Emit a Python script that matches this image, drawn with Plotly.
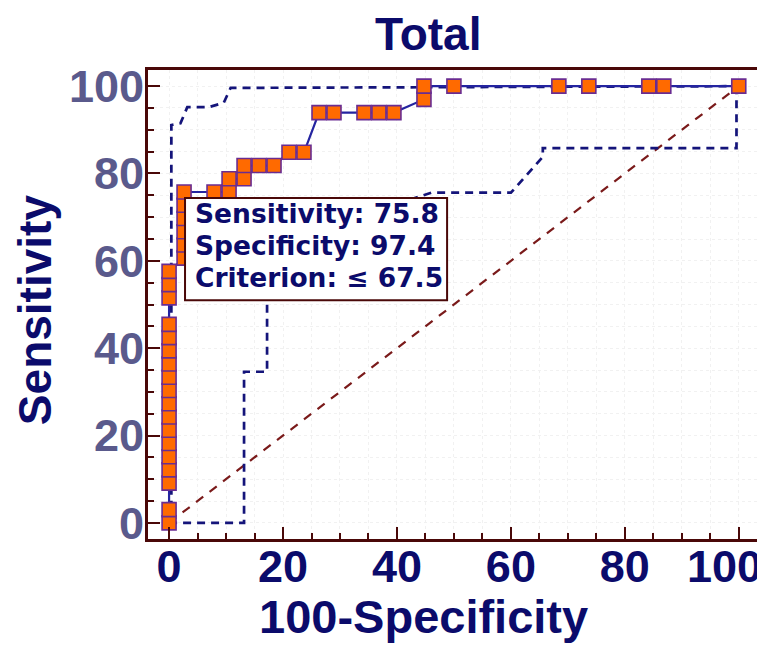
import plotly.graph_objects as go

# ROC curve points (100-Specificity, Sensitivity)
roc_fpr = [0, 0, 0, 0, 0, 0, 0, 0, 0, 0, 0, 0, 0, 0, 0, 0, 0, 0,
           2.63, 2.63, 2.63, 2.63, 2.63, 2.63,
           7.89, 10.53, 10.53, 13.16, 13.16, 15.79, 18.42, 21.05, 23.68,
           26.32, 28.95, 34.21, 36.84, 39.47, 44.74, 44.74,
           50.0, 68.42, 73.68, 84.21, 86.84, 100.0]
roc_sens = [0, 3.03, 9.09, 12.12, 15.15, 18.18, 21.21, 24.24, 27.27, 30.30, 33.33,
            36.36, 39.39, 42.42, 45.45, 51.52, 54.55, 57.58,
            60.61, 63.64, 66.67, 69.70, 72.73, 75.76,
            75.76, 75.76, 78.79, 78.79, 81.82, 81.82, 81.82, 84.85, 84.85,
            93.94, 93.94, 93.94, 93.94, 93.94, 96.97, 100.0,
            100.0, 100.0, 100.0, 100.0, 100.0, 100.0]

# Confidence bounds
upper_fpr = [0.4, 0.4, 2.0, 3.2, 7.0, 9.6, 10.8, 45.0, 100.0]
upper_sens = [0, 91.1, 91.5, 95.2, 95.2, 96.2, 99.6, 99.8, 100.0]
lower_fpr = [0, 13.16, 13.16, 17.2, 17.2, 40.0, 46.0, 60.0, 65.6, 65.6, 99.6, 99.6]
lower_sens = [0, 0, 34.6, 34.6, 55.0, 73.0, 75.6, 75.6, 83.8, 85.8, 85.8, 100.0]

# Reference diagonal
diag_x = [0, 100]
diag_y = [0, 100]

box_lines = ["Sensitivity: 75.8", "Specificity: 97.4", "Criterion: \u2264 67.5"]
box_line_y = [70.9, 63.4, 56.1]

x_ticks = [0, 20, 40, 60, 80, 100]
x_ticktext = ["0", "20", "40", "60", "80", "100"]
y_ticks = [0, 20, 40, 60, 80, 100]
y_ticktext = ["0", "20", "40", "60", "80", "100"]

NAVY = "#0b0b6b"
MAROON = "#4a0808"
AXFONT = "Liberation Sans, Arial, sans-serif"

fig = go.Figure()
fig.add_trace(go.Scatter(x=diag_x, y=diag_y, mode="lines",
                         line=dict(color="#7a1a1a", width=2.2, dash="9px,8px"),
                         hoverinfo="skip", showlegend=False))
fig.add_trace(go.Scatter(x=upper_fpr, y=upper_sens, mode="lines",
                         line=dict(color="#14147a", width=2.7, dash="8px,6px"),
                         showlegend=False))
fig.add_trace(go.Scatter(x=lower_fpr, y=lower_sens, mode="lines",
                         line=dict(color="#14147a", width=2.7, dash="8px,6px"),
                         showlegend=False))
fig.add_trace(go.Scatter(x=roc_fpr, y=roc_sens, mode="lines+markers",
                         line=dict(color="#2424a0", width=2.2),
                         marker=dict(symbol="square", size=14, color="#ff6a00",
                                     line=dict(color="#6a2c91", width=1.6)),
                         showlegend=False))

# criterion box
fig.add_shape(type="rect", xref="x", yref="y", x0=2.8, x1=48.8, y0=51.0, y1=74.4,
              line=dict(color=MAROON, width=2), fillcolor="white", layer="above")
for txt, yy in zip(box_lines, box_line_y):
    fig.add_annotation(x=4.2, y=yy, xref="x", yref="y", text=txt, showarrow=False,
                       xanchor="left", yanchor="middle",
                       font=dict(family="DejaVu Sans", size=26.5, color=NAVY, weight="bold"))

tick_font_x = dict(family=AXFONT, size=45, color=NAVY, weight="bold")

# the last x tick label sits against the right edge of the picture (as in the reference)
fig.add_annotation(x=x_ticks[-1], y=-0.058, xref="x", yref="paper", text=x_ticktext[-1],
                   showarrow=False, xanchor="right", yanchor="middle", xshift=25,
                   font=tick_font_x)

# titles
fig.add_annotation(x=(428 - 148) / 609, y=1.077, xref="paper", yref="paper", text="Total",
                   showarrow=False, xanchor="center", yanchor="middle",
                   font=dict(family=AXFONT, size=46, color=NAVY, weight="bold"))
fig.add_annotation(x=(423 - 148) / 609, y=-0.166, xref="paper", yref="paper",
                   text="100-Specificity", showarrow=False, xanchor="center", yanchor="middle",
                   font=dict(family=AXFONT, size=47, color=NAVY, weight="bold"))
fig.add_annotation(x=(35 - 148) / 609, y=0.488, xref="paper", yref="paper",
                   text="Sensitivity", showarrow=False, xanchor="center", yanchor="middle",
                   textangle=-90,
                   font=dict(family=AXFONT, size=46, color=NAVY, weight="bold"))

axis_common = dict(showline=True, linecolor=MAROON, linewidth=3, mirror=True,
                   ticks="inside", ticklen=12, tickwidth=2, tickcolor=MAROON,
                   showgrid=False, zeroline=False, automargin=False,
                   ticklabeloverflow="allow",
                   minor=dict(dtick=5, ticks="inside", ticklen=6, tickwidth=2,
                              tickcolor=MAROON, showgrid=True, gridcolor="#f1f1f1",
                              griddash="dot"))

fig.update_xaxes(range=[-3.7, 103.2], tickvals=x_ticks,
                 ticktext=x_ticktext[:-1] + [""],
                 tickfont=tick_font_x,
                 ticklabelstandoff=-14, **axis_common)
fig.update_yaxes(range=[-3.7, 103.7], tickvals=y_ticks, ticktext=y_ticktext,
                 tickfont=dict(family=AXFONT, size=45, color="#5a5a8c", weight="bold"),
                 ticklabelstandoff=-8, **axis_common)

# page body has an 8px default margin; the figure is sized so the plot lands where the reference has it
fig.update_layout(width=757, height=638, margin=dict(l=140, r=8, t=62, b=107),
                  plot_bgcolor="white", paper_bgcolor="white", showlegend=False)

fig.write_html("out.html")
